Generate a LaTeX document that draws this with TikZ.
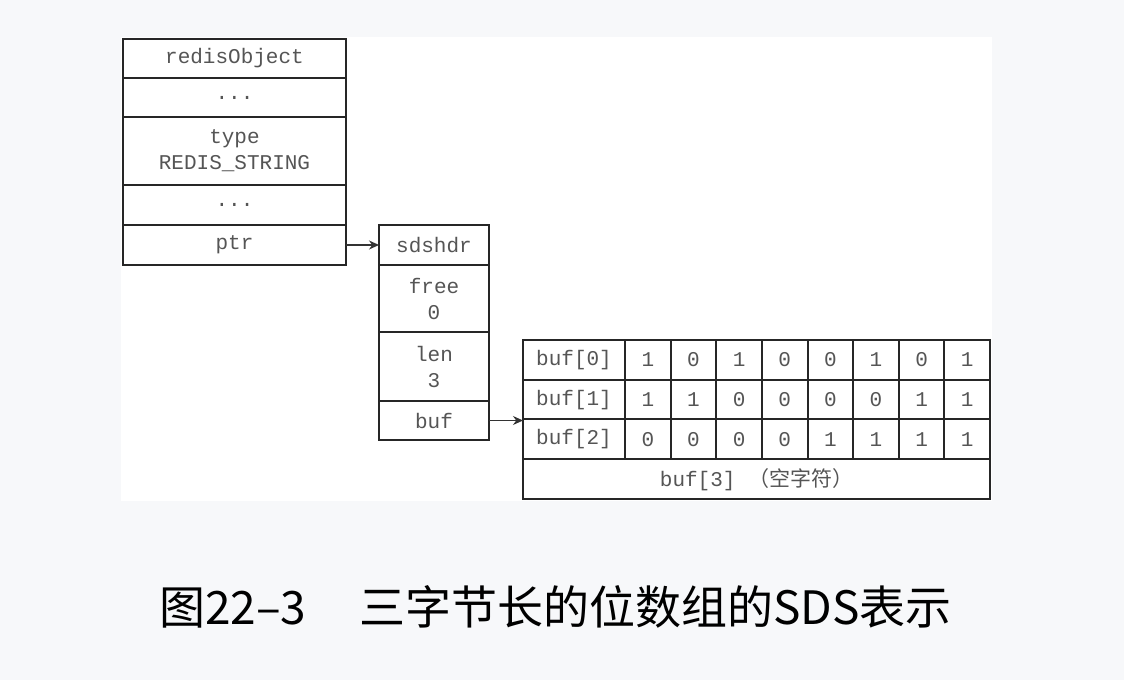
\documentclass[tikz,border=0pt]{standalone}
\usepackage{fontspec}
\setmonofont{Liberation Mono}
\newfontfamily\cjk{Noto Sans CJK SC}
\usetikzlibrary{arrows.meta, positioning}
\definecolor{pagebg}{HTML}{F7F8FA}
\definecolor{celltext}{HTML}{555555}

\begin{document}
\begin{tikzpicture}[
  x=1pt, y=1pt,
  node distance=0pt,
  cell/.style={rectangle, draw=black!85, line width=2pt, outer sep=0pt,
    inner sep=0pt, align=center, text=celltext,
    font=\fontsize{21}{26}\selectfont\ttfamily},
  objcell/.style={cell, minimum width=223},
  sdscell/.style={cell, minimum width=110},
  bitcell/.style={cell, minimum width=45.625, minimum height=39.75, anchor=north west},
  labcell/.style={cell, minimum width=102, minimum height=39.75, anchor=north west},
  arr/.style={-{Stealth[length=10pt, width=9pt]}, line width=1.3pt, black!80}
]
\useasboundingbox (0,0) rectangle (1124,680);
\fill[pagebg] (0,0) rectangle (1124,680);
\fill[white] (121,643) rectangle (992,179);

% redisObject
\node[objcell, minimum height=39, anchor=north] (robj) at (234.5,641) {redisObject};
\node[objcell, minimum height=39, below=of robj] (dotsa) {...};
\node[objcell, minimum height=68, below=of dotsa] (type) {type\\REDIS\_STRING};
\node[objcell, minimum height=40, below=of type] (dotsb) {...};
\node[objcell, minimum height=40, below=of dotsb] (ptr) {ptr};

% sdshdr
\node[sdscell, minimum height=40, right=33pt of ptr] (sds) {sdshdr};
\node[sdscell, minimum height=67, below=of sds] (free) {free\\0};
\node[sdscell, minimum height=69, below=of free] (len) {len\\3};
\node[sdscell, minimum height=39, below=of len] (buf) {buf};

% bit array
\node[labcell] (b0) at (523,340) {buf[0]};
\node[labcell] (b1) at (523,300.25) {buf[1]};
\node[labcell] (b2) at (523,260.5) {buf[2]};
\foreach \v [count=\c] in {1,0,1,0,0,1,0,1}
  \node[bitcell] (r0-\c) at (579.375+45.625*\c,340) {\v};
\foreach \v [count=\c] in {1,1,0,0,0,0,1,1}
  \node[bitcell] (r1-\c) at (579.375+45.625*\c,300.25) {\v};
\foreach \v [count=\c] in {0,0,0,0,1,1,1,1}
  \node[bitcell] (r2-\c) at (579.375+45.625*\c,260.5) {\v};
\node[cell, minimum width=467, minimum height=40, anchor=north west] (b3)
  at (523,220.75) {buf[3] {\cjk （空字符）}};

\draw[arr] (ptr.east) -- (sds.west);
\draw[arr] (buf.east) -- (buf.east -| b1.west);

% caption
\node[font=\cjk\fontsize{46}{52}\selectfont] (caption) at (555.5,73)
  {图22–3\hspace{1.15em}三字节长的位数组的SDS表示};
\end{tikzpicture}
\end{document}
